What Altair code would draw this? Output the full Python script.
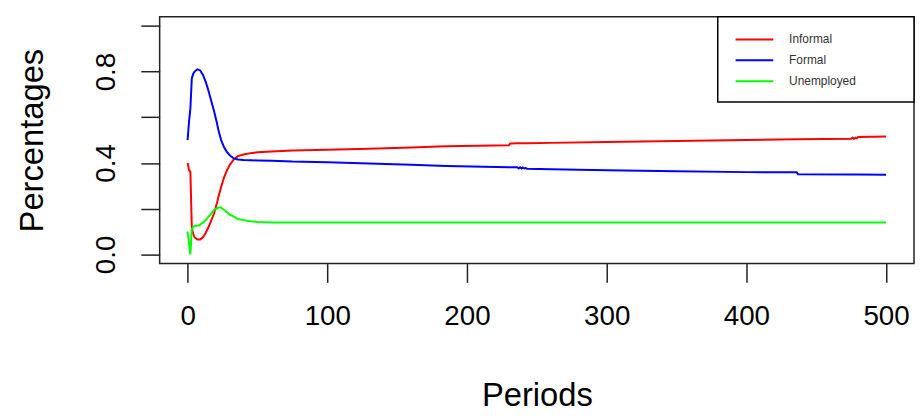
import altair as alt
import pandas as pd

periods = [0, 1, 2, 3, 4, 5, 7, 9, 11, 13, 15, 17, 19, 21, 22, 24, 26, 28, 30, 33, 36, 40, 45, 50,
           60, 75, 100, 130, 160, 185, 230, 231, 236, 237, 238, 239, 240, 241, 242, 243, 260, 300,
           350, 400, 436, 437, 475, 476, 477, 478, 479, 480, 500]
informal = [.40, .37, .36, .12, .09, .075, .065, .065, .075, .095, .12, .15, .18, .225, .25, .295, .335,
            .365, .39, .415, .43, .437, .443, .447, .45, .455, .458, .462, .468, .473, .478, .485, .486,
            .486, .486, .486, .486, .486, .486, .486, .488, .492, .496, .501, .504, .504, .506, .511,
            .505, .511, .508, .514, .516]
formal = [.50, .58, .64, .77, .79, .80, .81, .805, .785, .755, .715, .67, .625, .575, .545, .50, .47, .45,
          .435, .42, .415, .413, .412, .411, .41, .406, .403, .398, .392, .387, .381, .381, .381, .376,
          .381, .376, .380, .376, .378, .375, .373, .368, .364, .360, .359, .351, .350, .350, .350, .350,
          .350, .350, .349]
unemployed = [.10, .05, .00, .11, .12, .125, .125, .13, .14, .15, .165, .18, .195, .20, .205, .205, .195,
              .185, .175, .165, .155, .15, .145, .142, .14, .14, .14, .14, .14, .14, .14, .14, .14, .14,
              .14, .14, .14, .14, .14, .14, .14, .14, .14, .14, .14, .14, .14, .14, .14, .14, .14, .14, .14]

series_names = ["Informal", "Formal", "Unemployed"]
series_colors = ["#FF0000", "#0000FF", "#00FF00"]
x_ticks = [0, 100, 200, 300, 400, 500]
y_ticks = [0.0, 0.2, 0.4, 0.6, 0.8, 1.0]
y_labeled = ["0.0", "0.4", "0.8"]

frames = []
for name, vals in zip(series_names, [informal, formal, unemployed]):
    frames.append(pd.DataFrame({"Periods": periods, "value": vals, "series": name}))
df = pd.concat(frames, ignore_index=True)

FONT = "Liberation Sans"

lines = alt.Chart(df).mark_line(strokeWidth=2, clip=True).encode(
    x=alt.X("Periods:Q",
            scale=alt.Scale(domain=[-20, 520], nice=False, zero=False),
            axis=alt.Axis(values=x_ticks, title="Periods", labelPadding=20,
                          titleY=143, titleBaseline="alphabetic")),
    y=alt.Y("value:Q",
            scale=alt.Scale(domain=[-0.04, 1.04], nice=False, zero=False),
            axis=alt.Axis(values=y_ticks, format=".1f", title="Percentages",
                          labelExpr="indexof(" + str(y_labeled) + ", datum.label) >= 0 ? datum.label : ''",
                          labelAngle=270, labelAlign="center", labelBaseline="alphabetic",
                          labelPadding=27, titleAngle=270, titleAlign="center",
                          titleBaseline="alphabetic", titleX=-118, titleY=124.5)),
    color=alt.Color("series:N",
                    scale=alt.Scale(domain=series_names, range=series_colors),
                    legend=alt.Legend(orient="none", legendX=589.5, legendY=12.5, title=None,
                                      symbolType="M-2,0H2", symbolSize=361, symbolStrokeWidth=2,
                                      symbolFillColor="transparent",
                                      labelFontSize=12, labelFont=FONT, labelColor="#333",
                                      labelOffset=24.5, rowPadding=4, padding=0)),
)

legend_box = alt.Chart(pd.DataFrame({"a": [0]})).mark_rect(
    fill="white", stroke="black", strokeWidth=1.5
).encode(x=alt.value(563), x2=alt.value(761), y=alt.value(0), y2=alt.value(86))

chart = alt.layer(lines, legend_box).properties(
    width=761, height=249,
    autosize=alt.AutoSizeParams(type="none"),
    padding={"left": 153, "top": 7, "right": 2, "bottom": 150},
).configure_view(
    stroke="#222", strokeWidth=1.5
).configure_axis(
    domain=False, grid=False, tickColor="#222", tickWidth=1.5, tickSize=19,
    labelFont=FONT, labelFontSize=28, labelColor="black",
    titleFont=FONT, titleFontSize=33, titleFontWeight="normal", titleColor="black",
)

chart.save("out.html", embed_options={"renderer": "svg", "actions": False})
